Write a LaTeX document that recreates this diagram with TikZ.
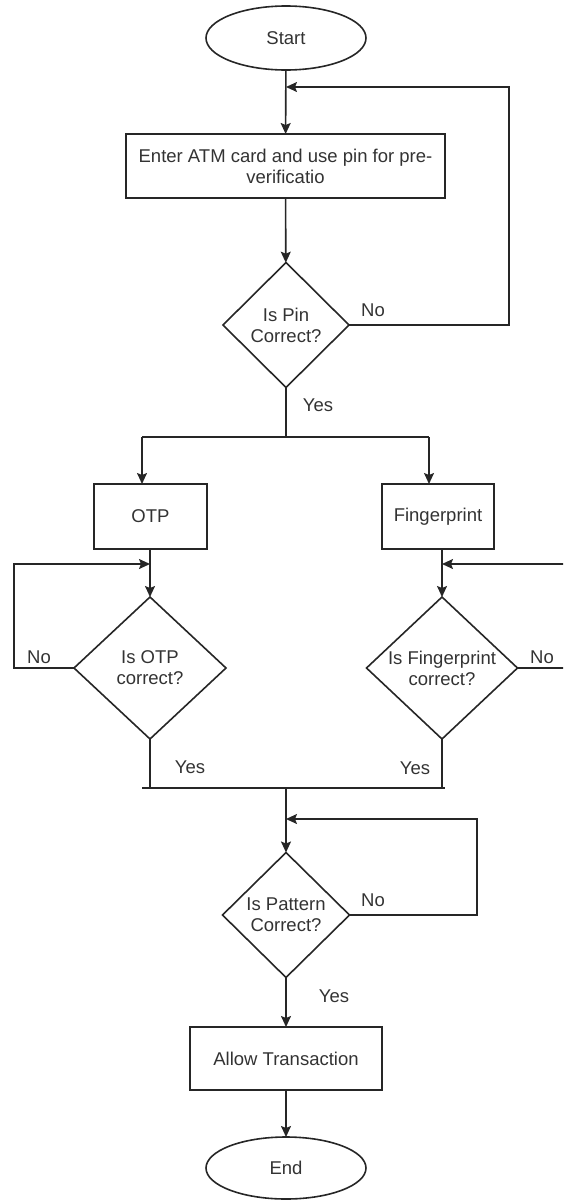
\documentclass[tikz,border=0pt]{standalone}
\usepackage{fontspec}
\setmainfont{Liberation Sans}
\usetikzlibrary{shapes.geometric,arrows.meta}
\definecolor{linec}{HTML}{262626}
\definecolor{textc}{HTML}{333333}
\begin{document}
\begin{tikzpicture}[x=1pt,y=-1pt,
  line/.style={draw=linec,line width=1.6pt},
  arr/.style={line,-{Stealth[length=11pt,width=10pt,inset=2pt]}},
  txt/.style={text=textc,font=\fontsize{18.5}{21}\selectfont,align=center,inner sep=0pt},
  box/.style={rectangle,draw=linec,line width=1.6pt,inner sep=0pt,outer sep=0pt,fill=white,txt},
  term/.style={ellipse,draw=linec,line width=1.6pt,inner sep=0pt,outer sep=0pt,fill=white,txt},
  dec/.style={diamond,draw=linec,line width=1.6pt,inner sep=0pt,outer sep=0pt,fill=white}
]
\useasboundingbox (0,0) rectangle (563,1200);
\clip (0,0) rectangle (563,1200);

% nodes
\node[term,minimum width=160,minimum height=64] (start) at (286,38) {Start};
\node[box,minimum width=319,minimum height=64] (enter) at (285.5,166) {Enter ATM card and use pin for pre-\\verificatio};
\node[dec,minimum width=126,minimum height=125] (pin) at (286,325) {};
\node[txt] (pint) at (286,325) {Is Pin\\Correct?};

\node[box,minimum width=113,minimum height=65] (otp) at (150.5,516.5) {OTP};
\node[box,minimum width=112,minimum height=65] (fp) at (438,516.5) {Fingerprint};

\node[dec,minimum width=152,minimum height=142] (otpd) at (150,668) {};
\node[txt] (otpdt) at (150,668) {Is OTP\\correct?};
\node[dec,minimum width=151,minimum height=142] (fpd) at (442,668) {};
\node[txt] (fpdt) at (442,668) {Is Fingerprint\\correct?};

\node[dec,minimum width=127,minimum height=125] (pat) at (286,915) {};
\node[txt] (patt) at (286,915) {Is Pattern\\Correct?};

\node[box,minimum width=192,minimum height=63] (allow) at (286,1058.5) {Allow Transaction};
\node[term,minimum width=160,minimum height=62] (end) at (286,1168) {End};

% coordinates
\coordinate (pinR) at (509,325);
\coordinate (pinRT) at (509,87);
\coordinate (pinIn) at (286,87);
\coordinate (split) at (286,437);
\coordinate (splitL) at (142,437);
\coordinate (splitR) at (429,437);
\coordinate (otpL) at (14,668);
\coordinate (otpLT) at (14,564);
\coordinate (otpIn) at (150,564);
\coordinate (fpR) at (575,668);
\coordinate (fpRT) at (575,564);
\coordinate (fpIn) at (442,564);
\coordinate (joinL) at (142,788);
\coordinate (joinR) at (445,788);
\coordinate (joinC) at (286,788);
\coordinate (patR) at (477,915);
\coordinate (patRT) at (477,819);
\coordinate (patIn) at (286,819);

% connectors
\draw[arr] (start) -- (enter);
\draw[arr] (enter) -- (pin);
\draw[arr] (pin.east) -- (pinR) -- (pinRT) -- (pinIn);
\draw[line] (pin.south) -- (split);
\draw[line] (splitL) -- (splitR);
\draw[arr] (splitL) -- (otp.north -| splitL);
\draw[arr] (splitR) -- (fp.north -| splitR);

\draw[arr] (otp.south -| otpd.north) -- (otpd.north);
\draw[arr] (otpd.west) -- (otpL) -- (otpLT) -- (otpIn);
\draw[arr] (fp.south -| fpd.north) -- (fpd.north);
\draw[arr] (fpd.east) -- (fpR) -- (fpRT) -- (fpIn);

\draw[line] (otpd.south) -- (otpd.south |- joinL);
\draw[line] (fpd.south) -- (fpd.south |- joinL);
\draw[line] (joinL) -- (joinR);
\draw[arr] (joinC) -- (pat.north);
\draw[arr] (pat.east) -- (patR) -- (patRT) -- (patIn);
\draw[arr] (pat.south) -- (allow.north);
\draw[arr] (allow) -- (end);

% labels
\node[txt] (lpinno) at (373,310) {No};
\node[txt] (lpinyes) at (318,405) {Yes};
\node[txt] (lotpno) at (39,657) {No};
\node[txt] (lotpyes) at (190,767) {Yes};
\node[txt] (lfpno) at (542,657) {No};
\node[txt] (lfpyes) at (415,768) {Yes};
\node[txt] (lpatno) at (373,900) {No};
\node[txt] (lpatyes) at (334,996) {Yes};
\end{tikzpicture}
\end{document}
